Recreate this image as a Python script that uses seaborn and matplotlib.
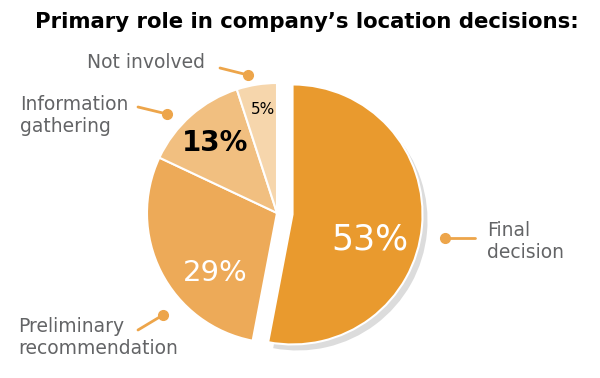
import matplotlib
matplotlib.use("Agg")
import matplotlib.pyplot as plt
import seaborn as sns

# data
roles = ["Final\ndecision", "Preliminary\nrecommendation", "Information\ngathering", "Not involved"]
shares = [53, 29, 13, 5]
pct_labels = ["53%", "29%", "13%", "5%"]
colors = ["#E99A2E", "#EDAA58", "#F1BF80", "#F6D6AC"]

sns.set_theme(style="white")
plt.rcParams["font.family"] = ["DejaVu Sans"]

W, H = 600, 378
fig = plt.figure(figsize=(W / 100, H / 100), dpi=100)
ax = fig.add_axes([0, 0, 1, 1])

cx, cy, r = 277, H - 213, 130
gap = 0.12 * r  # explode is in data units

# soft shadow under the exploded slice
ax.pie([shares[0], sum(shares[1:])], colors=["#dcdcdc", "none"], startangle=90,
       counterclock=False, center=(cx + 5, cy - 6), radius=r, explode=[gap, 0],
       wedgeprops=dict(linewidth=0))

wedges, _ = ax.pie(shares, colors=colors, startangle=90, counterclock=False,
                   center=(cx, cy), radius=r, explode=[gap, 0, 0, 0],
                   wedgeprops=dict(edgecolor="white", linewidth=1.5))

ax.set_xlim(0, W)
ax.set_ylim(0, H)
ax.set_aspect("equal")
ax.axis("off")

# percentages inside slices
pct_pos = [(370, 240), (215, 273), (215, 143), (263, 110)]
pct_size = [25, 21, 20, 11]
pct_color = ["white", "white", "black", "black"]
for lab, (x, y), fs, c in zip(pct_labels, pct_pos, pct_size, pct_color):
    ax.text(x, H - y, lab, ha="center", va="center", fontsize=fs, color=c,
            fontweight="bold" if c == "black" and fs > 15 else "normal")

# outside labels with leader lines ending in a dot
lead = "#EDA54A"
label_specs = [
    # dot, line end, text anchor
    ((445, 238), (475, 238), (487, 241)),
    ((163, 315), (138, 330), (18, 338)),
    ((167, 114), (138, 107), (20, 116)),
    ((248, 75), (220, 68), (87, 63)),
]
for name, (dot, end, txt) in zip(roles, label_specs):
    ax.plot([dot[0], end[0]], [H - dot[1], H - end[1]], color=lead, lw=2)
    ax.plot(dot[0], H - dot[1], "o", color=lead, ms=7)
    ax.text(txt[0], H - txt[1], name, ha="left", va="center", fontsize=13.5,
            color="#636466", linespacing=1.2)

fig.text(307 / W, 1 - 22 / H, "Primary role in company\u2019s location decisions:",
         ha="center", va="center", fontsize=15.3, fontweight="bold", color="black")

fig.savefig("out.png", dpi=100)
